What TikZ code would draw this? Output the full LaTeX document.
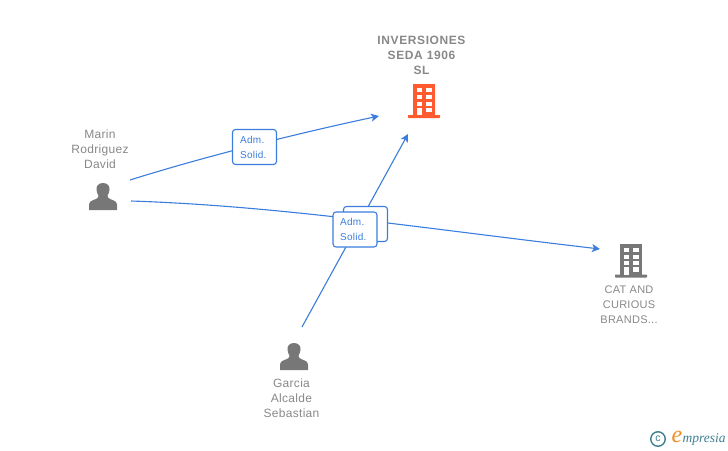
\documentclass[tikz,border=0pt]{standalone}
\usepackage{fontspec}
\setmainfont{Liberation Sans}[LetterSpace=2.5]
\newfontfamily\titlefont[LetterSpace=5]{Liberation Sans Bold}
\newfontfamily\logofont{Liberation Serif}
\usetikzlibrary{arrows.meta}
\definecolor{linkblue}{HTML}{3B7DDD}
\definecolor{icongray}{HTML}{777777}
\definecolor{textgray}{HTML}{888888}
\definecolor{hotorange}{HTML}{FF5B2E}
\definecolor{logoteal}{HTML}{3F7F93}
\definecolor{logoorange}{HTML}{F28C1E}
\tikzset{
  x=1pt,y=-1pt,
  nodelabel/.style={font=\fontsize{12}{15}\selectfont,text=textgray,align=center,inner sep=0pt},
  titlelabel/.style={font=\fontsize{12}{15}\selectfont\titlefont,text=textgray,align=center,inner sep=0pt},
  linkbox/.style={draw=linkblue,line width=1.1pt,fill=white,rounded corners=3pt,minimum width=44pt,minimum height=35pt,inner sep=0pt},
  linktext/.style={inner sep=0pt,anchor=west,align=left,font=\fontsize{10}{15}\selectfont,text=linkblue},
  link/.style={draw=linkblue,line width=1.1pt},
  linkarrow/.style={link,-{Stealth[length=8pt,width=8pt,inset=2pt]}},
  anchorbox/.style={minimum width=30pt,minimum height=30pt,inner sep=0pt}
}
\newcommand{\drawbuilding}[3]{%
  \begin{scope}[shift={(#1,#2)}]
    \fill[#3] (-11.3,-16) rectangle (11.3,15);
    \fill[#3,rounded corners=0.6pt] (-16,15) rectangle (16,18);
    \foreach \yy in {-11.7,-5,1.7}{
      \fill[white] (-7.3,\yy) rectangle (-2,\yy+4);
      \fill[white] (2,\yy) rectangle (7.7,\yy+4);
    }
    \fill[white] (-7.3,7.7) rectangle (-2,15);
    \fill[white] (2,7.7) rectangle (7.7,12.3);
  \end{scope}}
\newcommand{\drawperson}[2]{%
  \begin{scope}[shift={(#1,#2)}]
    \fill[icongray] (0,-13) .. controls (-5,-13) and (-7,-9.5) .. (-6.5,-6)
      .. controls (-6.2,-3.5) and (-5.2,-1.5) .. (-4.5,-0.5)
      .. controls (-4.5,1.5) and (-5.5,2.5) .. (-7.5,3.2)
      .. controls (-11,4.4) and (-14,5.5) .. (-14,9)
      -- (-14,14) -- (14,14) -- (14,9)
      .. controls (14,5.5) and (11,4.4) .. (7.5,3.2)
      .. controls (5.5,2.5) and (4.5,1.5) .. (4.5,-0.5)
      .. controls (5.2,-1.5) and (6.2,-3.5) .. (6.5,-6)
      .. controls (7,-9.5) and (5,-13) .. (0,-13) -- cycle;
  \end{scope}}
\begin{document}
\begin{tikzpicture}
\useasboundingbox (0,0) rectangle (728,450);
% icons
\drawbuilding{424}{100}{hotorange}
\drawbuilding{631}{259.5}{icongray}
\drawperson{103}{196}
\drawperson{294}{356}
\node[anchorbox] (inv) at (424,100) {};
\node[anchorbox] (cat) at (631,260) {};
\node[anchorbox] (marin) at (103,196) {};
\node[anchorbox] (garcia) at (294,356) {};
% labels
\node[titlelabel] (invlabel) at (421.5,55) {INVERSIONES\\SEDA 1906\\SL};
\node[nodelabel] (marinlabel) at (100,149) {Marin\\Rodriguez\\David};
\node[nodelabel,font=\fontsize{11}{15}\selectfont] (catlabel) at (629,304.5) {CAT AND\\CURIOUS\\BRANDS...};
\node[nodelabel] (garcialabel) at (291.5,398) {Garcia\\Alcalde\\Sebastian};
% connector ends
\coordinate (m1) at (130,180);
\coordinate (m2) at (131,201);
\coordinate (g1) at (302,327);
\coordinate (i1) at (379,116);
\coordinate (i2) at (408,134);
\coordinate (c1) at (600,249);
% connectors
\draw[linkarrow] (m1) .. controls (200,158) and (290,135) .. (i1);
\draw[linkarrow] (m2) .. controls (280,206) and (420,228) .. (c1);
\draw[linkarrow] (g1) -- (i2);
% link boxes
\node[linkbox] (box1) at (254.5,147) {};
\node[linktext] (box1text) at (240,147) {Adm.\\Solid.};
\node[linkbox] (box2) at (365.5,224) {};
\node[linkbox] (box3) at (355,229.5) {};
\node[linktext] (box3text) at (340,229.5) {Adm.\\Solid.};
% logo
\node[draw=logoteal,line width=1.4pt,circle,minimum size=14.5pt,inner sep=0pt,font=\fontsize{10.5}{10.5}\selectfont,text=logoteal] (copy) at (658,439) {c};
\node[inner sep=0pt,text=logoorange,font=\fontsize{24}{24}\selectfont\logofont\itshape] (logoe) at (677,436.5) {e};
\node[inner sep=0pt,anchor=west,text=logoteal,font=\fontsize{13.5}{13.5}\selectfont\logofont\itshape] (logotext) at (682.5,439.5) {mpresia};
\end{tikzpicture}
\end{document}
